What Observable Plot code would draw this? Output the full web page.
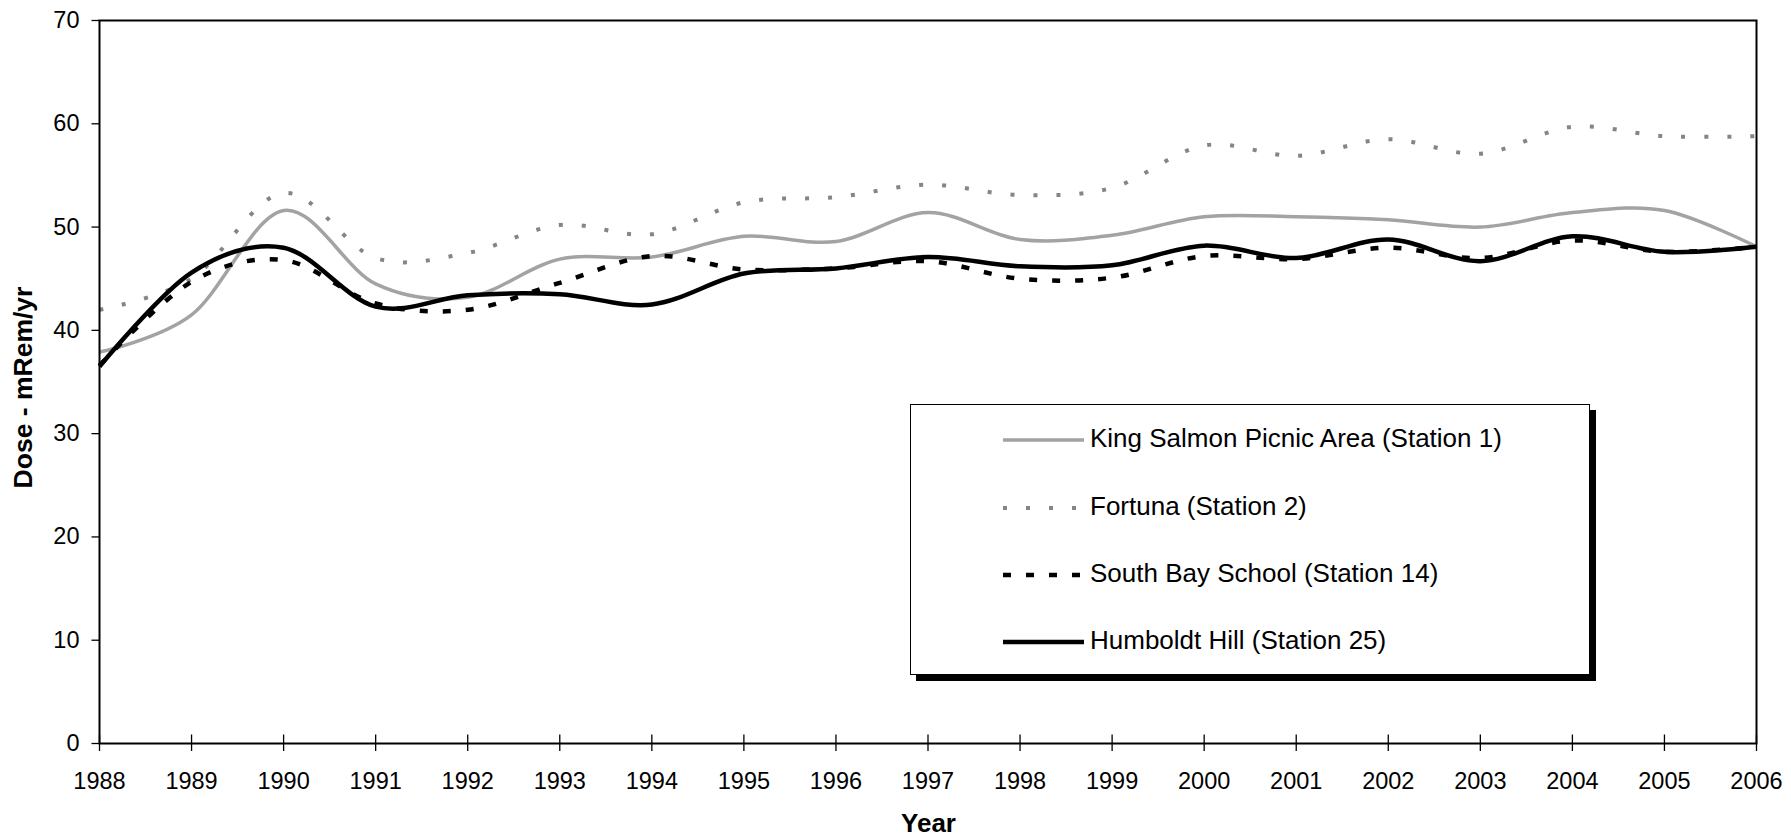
<!DOCTYPE html>
<html>
<head>
<meta charset="utf-8">
<script src="https://cdn.jsdelivr.net/npm/d3@7"></script>
<script src="https://cdn.jsdelivr.net/npm/@observablehq/plot@0.6"></script>
<style>
  html, body { margin: 0; padding: 0; background: #fff; }
  #wrap { position: relative; width: 1791px; height: 838px; overflow: hidden; font-family: "Liberation Sans", Arial, sans-serif; }
  #legend { position: absolute; left: 910px; top: 404px; width: 678px; height: 269px; border: 1.5px solid #000; background: #fff; box-shadow: 6px 6px 0 #000; }
</style>
</head>
<body>
<div id="wrap"></div>
<script>
// ---- data ----
const years = [1988, 1989, 1990, 1991, 1992, 1993, 1994, 1995, 1996, 1997, 1998, 1999, 2000, 2001, 2002, 2003, 2004, 2005, 2006];
const kingSalmon = [37.9, 41.5, 51.6, 44.5, 43.2, 46.9, 47.1, 49.1, 48.6, 51.4, 48.8, 49.2, 51.0, 51.0, 50.7, 50.0, 51.4, 51.6, 48.1];
const fortuna    = [42.0, 45.0, 53.3, 47.0, 47.5, 50.2, 49.3, 52.4, 52.9, 54.1, 53.1, 53.8, 57.9, 56.9, 58.5, 57.1, 59.7, 58.8, 58.8];
const southBay   = [36.6, 44.7, 46.8, 42.6, 42.0, 44.6, 47.2, 45.9, 46.0, 46.7, 45.0, 45.1, 47.2, 46.9, 48.0, 47.0, 48.7, 47.6, 48.1];
const humboldt   = [36.5, 45.6, 48.0, 42.3, 43.4, 43.5, 42.5, 45.5, 46.0, 47.1, 46.2, 46.3, 48.2, 47.0, 48.8, 46.7, 49.1, 47.6, 48.1];
const seriesNames = ["King Salmon Picnic Area (Station 1)", "Fortuna (Station 2)", "South Bay School (Station 14)", "Humboldt Hill (Station 25)"];
const yTicks = [0, 10, 20, 30, 40, 50, 60, 70];
const xTitle = "Year";
const yTitle = "Dose - mRem/yr";

// ---- styles ----
const styles = [
  {stroke: "#a3a3a3", strokeWidth: 3.5, dash: null},
  {stroke: "#858585", strokeWidth: 4, dash: "4,19"},
  {stroke: "#000", strokeWidth: 4.5, dash: "8,15"},
  {stroke: "#000", strokeWidth: 4.5, dash: null}
];
const allValues = [kingSalmon, fortuna, southBay, humboldt];
const tables = allValues.map(vals => years.map((yr, i) => ({year: yr, value: vals[i]})));

const lineMarks = tables.map((t, k) => Plot.line(t, {
  x: "year", y: "value", curve: "cardinal", tension: 0,
  stroke: styles[k].stroke, strokeWidth: styles[k].strokeWidth,
  strokeDasharray: styles[k].dash || undefined, strokeLinecap: "butt", strokeLinejoin: "round"
}));

const chart = Plot.plot({
  width: 1791, height: 838,
  marginLeft: 99, marginRight: 35, marginTop: 20, marginBottom: 95,
  style: {fontFamily: '"Liberation Sans", Arial, sans-serif', fontSize: "23.5px", color: "#000", background: "#fff", overflow: "visible"},
  x: {domain: [1988, 2006], ticks: years, tickFormat: d => String(d), tickSize: 8, tickPadding: 21, label: null},
  y: {domain: [0, 70], ticks: yTicks, tickSize: 7.5, tickPadding: 12.5, label: null},
  marks: [
    ...lineMarks,
    Plot.frame({stroke: "#000", strokeWidth: 2})
  ]
});

document.getElementById("wrap").appendChild(chart);

// x ticks cross the axis line
const svg = d3.select(chart);
svg.selectAll('[aria-label="x-axis tick"] path').attr("d", "M0,-8.5L0,8");
svg.selectAll('[aria-label="x-axis tick"], [aria-label="y-axis tick"]').attr("stroke", "#000").attr("stroke-width", 1.3);
svg.selectAll('[aria-label="x-axis tick label"], [aria-label="y-axis tick label"]').attr("fill", "#000");

// axis titles
svg.append("text").attr("x", 928.5).attr("y", 832).attr("text-anchor", "middle")
  .attr("font-weight", "bold").attr("font-size", 26).attr("fill", "#000").text(xTitle);
svg.append("text").attr("transform", "translate(32,387.5) rotate(-90)").attr("text-anchor", "middle")
  .attr("font-weight", "bold").attr("font-size", 26.5).attr("fill", "#000").text(yTitle);

// legend
const legend = document.createElement("div");
legend.id = "legend";
document.getElementById("wrap").appendChild(legend);
const lg = d3.select(legend).append("svg").attr("width", 678).attr("height", 269)
  .style("position", "absolute").style("left", 0).style("top", 0);
const rowY = [32, 100, 167, 234];
seriesNames.forEach((name, k) => {
  lg.append("line").attr("x1", 92).attr("x2", 173).attr("y1", rowY[k] + 3).attr("y2", rowY[k] + 3)
    .attr("stroke", styles[k].stroke).attr("stroke-width", styles[k].strokeWidth)
    .attr("stroke-dasharray", styles[k].dash);
  lg.append("text").attr("x", 179).attr("y", rowY[k] + 9.5).attr("font-size", 26)
    .attr("font-family", '"Liberation Sans", Arial, sans-serif').attr("fill", "#000").text(name);
});
</script>
</body>
</html>
